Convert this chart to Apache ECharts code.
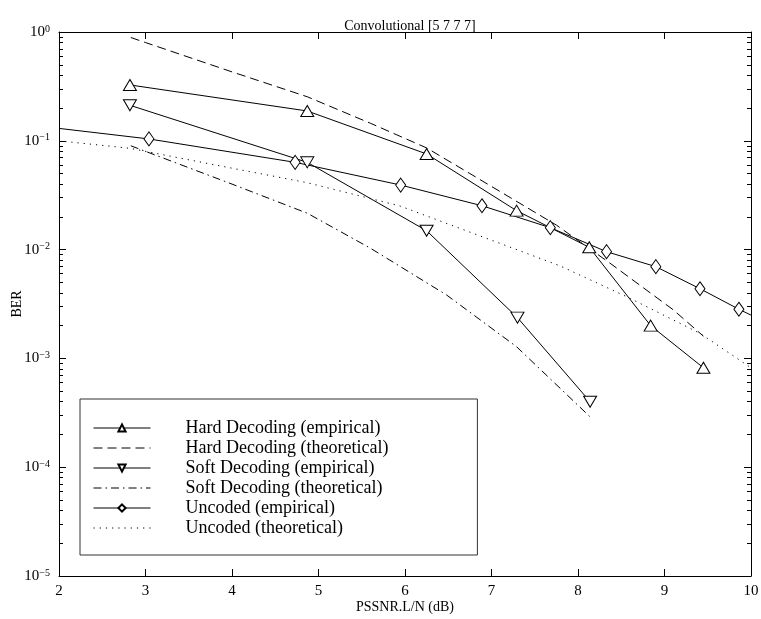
<!DOCTYPE html>
<html>
<head>
<meta charset="utf-8">
<script src="https://cdn.jsdelivr.net/npm/echarts@6/dist/echarts.min.js"></script>
<style>
  html, body { margin: 0; padding: 0; background: #fff; }
  #main { width: 761px; height: 619px; }
</style>
</head>
<body>
<div id="main"></div>
<script>
// values
var hardEmpX = [2.82, 4.87, 6.25, 7.29, 8.13, 8.84, 9.45];
var hardEmpY = [0.326, 0.188, 0.0757, 0.0228, 0.0105, 0.00200, 0.00082];

var hardThX = [2.83, 3, 4, 4.87, 5.6, 6.25, 6.75, 7.75, 8.37, 9.1, 9.45];
var hardThY = [0.89, 0.80, 0.43, 0.254, 0.145, 0.086, 0.050, 0.0168, 0.0075, 0.0028, 0.0016];

var softEmpX = [2.82, 4.87, 6.25, 7.30, 8.14];
var softEmpY = [0.212, 0.0634, 0.0149, 0.00237, 0.0004];

var softThX = [2.83, 4, 4.87, 5.6, 6.48, 7.29, 8.14];
var softThY = [0.090, 0.040, 0.0216, 0.0103, 0.00383, 0.00128, 0.00029];

var uncEmpX = [2, 3.04, 4.73, 5.95, 6.89, 7.68, 8.33, 8.90, 9.41, 9.86, 10];
var uncEmpY = [0.130, 0.104, 0.0634, 0.0392, 0.0253, 0.0159, 0.00957, 0.00697, 0.00437, 0.00283, 0.0025];

var uncThX = [2, 2.82, 4, 4.87, 5.94, 7, 7.79, 8.56, 9.41, 10];
var uncThY = [0.100, 0.0853, 0.056, 0.0412, 0.0252, 0.0122, 0.0071, 0.0037, 0.0017, 0.00082];

var names = [
  'Hard Decoding (empirical)',
  'Hard Decoding (theoretical)',
  'Soft Decoding (empirical)',
  'Soft Decoding (theoretical)',
  'Uncoded (empirical)',
  'Uncoded (theoretical)'
];

var minorTicks = [];
for (var e = -5; e < 0; e++) {
  for (var m = 2; m <= 9; m++) minorTicks.push(m * Math.pow(10, e));
}

var FONT = 'Liberation Serif';

function pairs(xs, ys) {
  return xs.map(function (x, i) { return [x, ys[i]]; });
}

// uncoded empirical: no markers at the clipped ends
var uncEmpData = pairs(uncEmpX, uncEmpY).map(function (p, i) {
  if (i === 0 || i === uncEmpX.length - 1) return { value: p, symbol: 'none' };
  return p;
});

function logLabel(v) {
  var e = Math.round(Math.log10(v));
  var s = e < 0 ? '\u2212' + (-e) : '' + e;
  return '{b|10}{s|' + s + '}';
}

// legend entries; hide the marker for the theoretical (line only) ones
var legendData = names.map(function (n, i) {
  if (i % 2 === 1) return { name: n, itemStyle: { opacity: 0 } };
  return { name: n };
});

var myChart = echarts.init(document.getElementById('main'));

var option = {
  animation: false,
  backgroundColor: '#fff',
  title: {
    text: 'Convolutional [5 7 7 7]',
    left: 405,
    textAlign: 'center',
    top: 14,
    textStyle: { fontFamily: FONT, fontSize: 14, fontWeight: 'normal', color: '#000' }
  },
  grid: { left: 59, right: 10, top: 32, bottom: 43, outerBoundsMode: 'none' },
  legend: {
    orient: 'vertical',
    left: 80,
    top: 399,
    data: legendData,
    itemWidth: 57,
    itemHeight: 9,
    itemGap: 2,
    padding: [20, 89, 18, 13],
    borderColor: '#333',
    borderWidth: 1,
    backgroundColor: '#fff',
    lineStyle: { width: 1 },
    textStyle: { fontFamily: FONT, fontSize: 18, color: '#000', padding: [0, 0, 0, 30], lineHeight: 18 }
  },
  xAxis: [
    {
      type: 'value', min: 2, max: 10, interval: 1,
      name: 'PSSNR.L/N (dB)', nameLocation: 'middle', nameGap: 24, nameMoveOverlap: false,
      nameTextStyle: { fontFamily: FONT, fontSize: 14, color: '#000' },
      axisLine: { lineStyle: { color: '#000' } },
      axisTick: { inside: true, length: 7, lineStyle: { color: '#000' } },
      axisLabel: { fontFamily: FONT, fontSize: 15, color: '#000', margin: 8 },
      splitLine: { show: false }
    },
    {
      type: 'value', min: 2, max: 10, interval: 1, position: 'top',
      axisLine: { lineStyle: { color: '#000' } },
      axisTick: { inside: true, length: 7, lineStyle: { color: '#000' } },
      axisLabel: { show: false },
      splitLine: { show: false }
    }
  ],
  yAxis: [
    {
      type: 'log', logBase: 10, min: 1e-5, max: 1,
      name: 'BER', nameLocation: 'middle', nameGap: 35, nameMoveOverlap: false,
      nameTextStyle: { fontFamily: FONT, fontSize: 14, color: '#000' },
      axisLine: { lineStyle: { color: '#000' } },
      axisTick: { inside: true, length: 7, lineStyle: { color: '#000' } },
      axisLabel: {
        margin: 9,
        formatter: logLabel,
        rich: {
          b: { fontFamily: FONT, fontSize: 15, color: '#000', lineHeight: 16 },
          s: { fontFamily: FONT, fontSize: 10, color: '#000', verticalAlign: 'top', lineHeight: 10 }
        }
      },
      splitLine: { show: false }
    },
    {
      type: 'log', logBase: 10, min: 1e-5, max: 1, position: 'right',
      axisLine: { lineStyle: { color: '#000' } },
      axisTick: { inside: true, length: 7, lineStyle: { color: '#000' } },
      axisLabel: { show: false },
      splitLine: { show: false }
    },
    {
      type: 'log', logBase: 10, min: 1e-5, max: 1, position: 'left',
      axisLine: { show: false },
      axisTick: { inside: true, length: 4, customValues: minorTicks, lineStyle: { color: '#000' } },
      axisLabel: { show: false },
      splitLine: { show: false }
    },
    {
      type: 'log', logBase: 10, min: 1e-5, max: 1, position: 'right',
      axisLine: { show: false },
      axisTick: { inside: true, length: 4, customValues: minorTicks, lineStyle: { color: '#000' } },
      axisLabel: { show: false },
      splitLine: { show: false }
    }
  ],
  series: [
    {
      name: names[0], type: 'line', data: pairs(hardEmpX, hardEmpY),
      symbol: 'triangle', symbolSize: [13, 11],
      itemStyle: { color: '#fff', borderColor: '#000', borderWidth: 1 },
      lineStyle: { color: '#000', width: 1, type: 'solid' }
    },
    {
      name: names[1], type: 'line', data: pairs(hardThX, hardThY),
      symbol: 'none', itemStyle: { color: '#000' },
      lineStyle: { color: '#000', width: 1, type: [9, 5] }
    },
    {
      name: names[2], type: 'line', data: pairs(softEmpX, softEmpY),
      symbol: 'triangle', symbolRotate: 180, symbolSize: [13, 11],
      itemStyle: { color: '#fff', borderColor: '#000', borderWidth: 1 },
      lineStyle: { color: '#000', width: 1, type: 'solid' }
    },
    {
      name: names[3], type: 'line', data: pairs(softThX, softThY),
      symbol: 'none', itemStyle: { color: '#000' },
      lineStyle: { color: '#000', width: 1, type: [8, 4, 1.5, 4] }
    },
    {
      name: names[4], type: 'line', data: uncEmpData,
      symbol: 'diamond', symbolSize: [10, 14],
      itemStyle: { color: '#fff', borderColor: '#000', borderWidth: 1 },
      lineStyle: { color: '#000', width: 1, type: 'solid' }
    },
    {
      name: names[5], type: 'line', data: pairs(uncThX, uncThY),
      symbol: 'none', itemStyle: { color: '#000' },
      lineStyle: { color: '#000', width: 1, type: [1.2, 5] }
    }
  ]
};
myChart.setOption(option);
</script>
</body>
</html>
